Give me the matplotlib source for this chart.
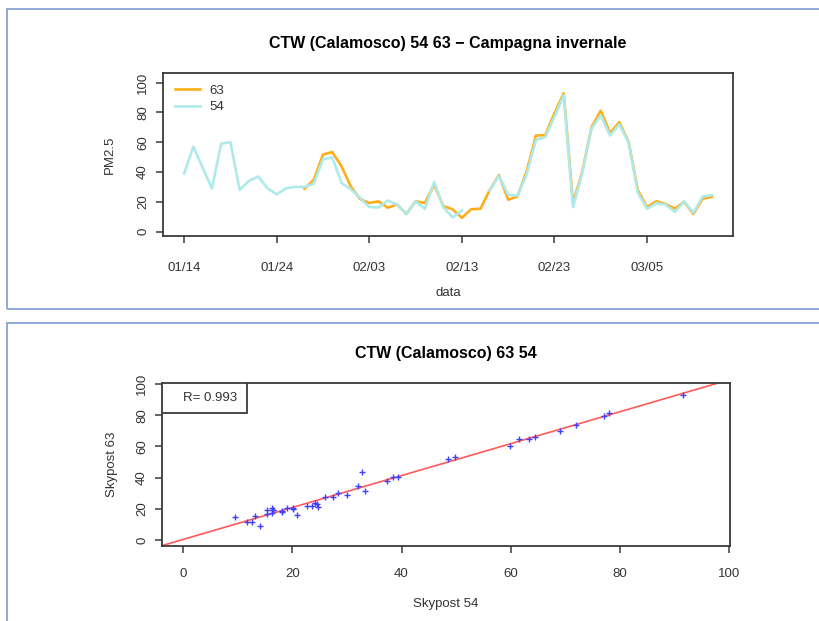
import numpy as np
import pandas as pd
import matplotlib
matplotlib.use("Agg")
import matplotlib.pyplot as plt
import matplotlib.dates as mdates
from matplotlib.patches import Rectangle

plt.rcParams["font.family"] = ["Liberation Sans", "DejaVu Sans"]

nan = np.nan

# Daily PM2.5 from the two Skypost samplers, winter campaign
dates = pd.date_range("2015-01-14", periods=58, freq="D")
pm_54 = [39, 57, 43, 29, 59, 60, 28, 34, 37, 29, 25, 29, 30,
         30.0, 32.1, 48.6, 49.8, 32.7, 28.4, 22.6, 16.5, 16.2, 20.8, 18.1,
         11.7, 20.2, 15.3, 33.3, 16.2, 9.5, 14.1, nan, nan, 27.5, 37.3,
         24.7, 24.1, 38.4, 61.6, 63.4, 77.1, 91.5, 16.5, 39.3, 69.1, 78.1,
         64.5, 72.0, 59.9, 26.0, 15.3, 19.0, 18.1, 13.2, 20.2, 12.6, 23.5,
         24.5]
pm_63 = [nan] * 13 + [
         28.8, 34.6, 51.7, 53.4, 43.8, 30.3, 21.8, 19.2, 20.3, 16.0, 18.2,
         11.8, 20.3, 19.2, 31.4, 17.1, 14.9, 9.2, 15.0, 15.3, 27.8, 38.0,
         21.4, 23.5, 40.6, 64.5, 64.7, 79.5, 92.9, 19.0, 40.2, 70.1, 81.2,
         66.2, 73.5, 60.3, 27.8, 16.5, 20.3, 18.5, 15.4, 20.0, 11.8, 22.0,
         23.3]

series_labels = ["63", "54"]
title_top = "CTW (Calamosco) 54 63 \u2212 Campagna invernale"
title_bottom = "CTW (Calamosco) 63 54"
y_ticks = [0, 20, 40, 60, 80, 100]
x_ticks_scatter = [0, 20, 40, 60, 80, 100]

ORANGE = "#FFAE1A"
CYAN = "#AEEAEA"
FRAME = "#8FA9D6"
SPINE = "#3a3a3a"
TEXT = "#333333"
FS = 9.5

W, H = 819, 621
fig = plt.figure(figsize=(W / 100, H / 100), dpi=100)


def rect_px(left, top, right, bottom):
    return [left / W, 1 - bottom / H, (right - left) / W, (bottom - top) / H]


# panel borders
for (l, t, r, b) in [(7, 9, 830, 309), (7, 323, 830, 640)]:
    fig.add_artist(Rectangle((l / W, 1 - b / H), (r - l) / W, (b - t) / H,
                             transform=fig.transFigure, fill=False,
                             edgecolor=FRAME, linewidth=1.4))


def style_axes(ax, xpad):
    for s in ax.spines.values():
        s.set_color(SPINE)
        s.set_linewidth(1.3)
    ax.tick_params(direction="out", length=5, width=1.1, color=SPINE,
                   labelsize=FS, labelcolor=TEXT)
    ax.tick_params(axis="y", labelrotation=90, pad=5)
    ax.tick_params(axis="x", pad=xpad)
    for lab in ax.get_yticklabels():
        lab.set_va("center")


# ---------------- time series ----------------
ax1 = fig.add_axes(rect_px(163, 73, 733, 236))
ax1.plot(dates, pm_63, color=ORANGE, lw=1.9, label=series_labels[0])
ax1.plot(dates, pm_54, color=CYAN, lw=1.9, label=series_labels[1])
span = dates[-1] - dates[0]
ax1.set_xlim(dates[0] - 0.04 * span, dates[-1] + 0.04 * span)
ax1.set_ylim(-3, 106.5)
ax1.set_yticks(y_ticks)
ax1.set_xticks(dates[::10][:6])
ax1.xaxis.set_major_formatter(mdates.DateFormatter("%m/%d"))
style_axes(ax1, 14)
ax1.set_title(title_top, fontsize=11.5, fontweight="bold", pad=18)
ax1.set_xlabel("data", fontsize=FS, color=TEXT)
ax1.set_ylabel("PM2.5", fontsize=FS, color=TEXT)
ax1.xaxis.set_label_coords(0.5, (236 - 293) / 163)
ax1.yaxis.set_label_coords((110 - 163) / 570, 0.5)
ax1.xaxis.label.set_va("center")
ax1.yaxis.label.set_va("center")
ax1.legend(loc="upper left", bbox_to_anchor=(0.0, 1.0), frameon=False,
           fontsize=FS, handlelength=1.9, handletextpad=0.75,
           labelspacing=0.3, borderpad=0.4, labelcolor=TEXT)

# ---------------- scatter ----------------
x54 = np.array(pm_54, dtype=float)
y63 = np.array(pm_63, dtype=float)
both = ~np.isnan(x54) & ~np.isnan(y63)
xs, ys = x54[both], y63[both]
slope, intercept = np.polyfit(xs, ys, 1)
r = np.corrcoef(xs, ys)[0, 1]

ax2 = fig.add_axes(rect_px(162, 383, 730, 546))
ax2.scatter(xs, ys, marker="+", s=18, color="#4040FF", linewidths=1.0,
            zorder=3)
ax2.axline((0, intercept), slope=slope, color="#FF5A5A", lw=1.2, zorder=2)
ax2.set_xlim(-3.9, 100.2)
ax2.set_ylim(-3.9, 100.6)
ax2.set_xticks(x_ticks_scatter)
ax2.set_yticks(y_ticks)
style_axes(ax2, 11)
ax2.set_title(title_bottom, fontsize=11.5, fontweight="bold", pad=18)
ax2.set_xlabel("Skypost 54", fontsize=FS, color=TEXT)
ax2.set_ylabel("Skypost 63", fontsize=FS, color=TEXT)
ax2.xaxis.set_label_coords(0.5, (546 - 604) / 163)
ax2.yaxis.set_label_coords((112 - 162) / 568, 0.5)
ax2.xaxis.label.set_va("center")
ax2.yaxis.label.set_va("center")

# correlation box in the top-left corner
bw, bh = (247 - 162) / 568, (413 - 383) / 163
ax2.add_patch(Rectangle((0, 1 - bh), bw, bh, transform=ax2.transAxes,
                        fill=True, facecolor="white", edgecolor=SPINE,
                        linewidth=1.3, zorder=4))
ax2.text(0.085, 1 - bh / 2, f"R= {r:.3f}", transform=ax2.transAxes,
         ha="center", va="center", fontsize=FS, color=TEXT, zorder=5)

fig.savefig("out.png", dpi=100)
